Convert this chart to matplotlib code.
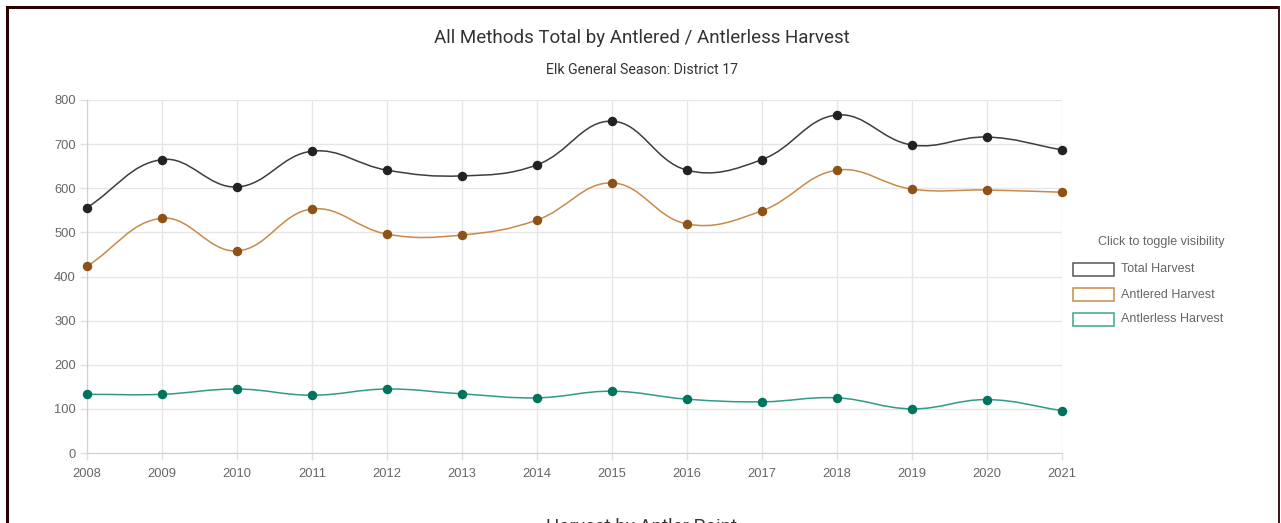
"""
Elk harvest, all methods, antlered / antlerless
"""
import numpy
from matplotlib import pyplot as plt
import matplotlib.patches as patches
from matplotlib.path import Path

# Data:
years = [2008, 2009, 2010, 2011, 2012, 2013, 2014, 2015, 2016, 2017, 2018, 2019, 2020, 2021]
total_harvest = [556, 665, 603, 684, 641, 628, 653, 752, 641, 665, 766, 698, 716, 687]
antlered_harvest = [423, 532, 458, 553, 496, 494, 528, 612, 519, 549, 641, 598, 596, 591]
antlerless_harvest = [133, 133, 145, 131, 145, 134, 125, 140, 122, 116, 125, 100, 121, 96]

series_names = ['Total Harvest', 'Antlered Harvest', 'Antlerless Harvest']
line_colours = ['#3d3d3d', '#c98a48', '#2e9c85']
point_colours = ['#222222', '#8e5216', '#00735c']
box_colours = ['#555555', '#c98a48', '#3aa58c']

W, H = 1281, 523
fig = plt.figure(figsize=(W/100, H/100), dpi=100)
fig.patch.set_facecolor('white')

left, right, top, bottom = 87, 1062, 100, 453
ax = fig.add_axes([left/W, 1 - bottom/H, (right-left)/W, (bottom-top)/H])
ax.set_xlim(2008, 2021)
ax.set_ylim(0, 800)
ax.set_xticks(years)
ax.set_yticks(range(0, 801, 100))
ax.grid(True, color='#e6e6e6', linewidth=1)
ax.set_axisbelow(True)
for s in ['top', 'right']:
    ax.spines[s].set_visible(False)
for s in ['left', 'bottom']:
    ax.spines[s].set_color('#d0d0d0')
ax.tick_params(colors='#e0e0e0', length=5, width=1, labelcolor='#666666',
               labelsize=9.3, pad=3)
ax.tick_params(axis='x', pad=6)
for lab in ax.get_xticklabels() + ax.get_yticklabels():
    lab.set_family('Liberation Sans')

# pixel scale for the Chart.js style spline
sx = (right - left) / 13.0
sy = (bottom - top) / 800.0


def spline_path(xs, ys, t=0.4):
    px = numpy.array(xs, float) * sx
    py = numpy.array(ys, float) * sy
    n = len(px)
    cps = []
    for i in range(n):
        p0 = (px[max(i-1, 0)], py[max(i-1, 0)])
        p1 = (px[i], py[i])
        p2 = (px[min(i+1, n-1)], py[min(i+1, n-1)])
        d01 = numpy.hypot(p1[0]-p0[0], p1[1]-p0[1])
        d12 = numpy.hypot(p2[0]-p1[0], p2[1]-p1[1])
        tot = d01 + d12
        s01 = d01/tot if tot else 0
        s12 = d12/tot if tot else 0
        fa, fb = t*s01, t*s12
        prev = (p1[0] - fa*(p2[0]-p0[0]), p1[1] - fa*(p2[1]-p0[1]))
        nxt = (p1[0] + fb*(p2[0]-p0[0]), p1[1] + fb*(p2[1]-p0[1]))
        cps.append((prev, nxt))
    verts = [(px[0], py[0])]
    codes = [Path.MOVETO]
    for i in range(1, n):
        verts += [cps[i-1][1], cps[i][0], (px[i], py[i])]
        codes += [Path.CURVE4] * 3
    verts = [(v[0]/sx, v[1]/sy) for v in verts]
    return Path(verts, codes)


all_series = [total_harvest, antlered_harvest, antlerless_harvest]
for vals, lc, pc in zip(all_series, line_colours, point_colours):
    path = spline_path(years, vals)
    ax.add_patch(patches.PathPatch(path, facecolor='none', edgecolor=lc,
                                   linewidth=1.1, zorder=3))
    ax.plot(years, vals, linestyle='none', marker='o', markersize=5.8,
            markerfacecolor=pc, markeredgecolor=pc, zorder=4, clip_on=False)

# Titles:
fig.text(642/W, 1 - 38/H, 'All Methods Total by Antlered / Antlerless Harvest',
         ha='center', va='center', fontsize=13.5, color='#333333', family='Roboto')
fig.text(642/W, 1 - 69.5/H, 'Elk General Season: District 17',
         ha='center', va='center', fontsize=10.2, color='#333333', family='Roboto')
fig.text(642/W, 1 - 527/H, 'Harvest by Antler Point',
         ha='center', va='center', fontsize=13.5, color='#333333', family='Roboto')

# Legend:
fig.text(1161/W, 1 - 242.5/H, 'Click to toggle visibility', ha='center', va='center',
         fontsize=9, color='#666666', family='Liberation Sans')
for i, (name, bc) in enumerate(zip(series_names, box_colours)):
    yc = 269.5 + 25*i
    fig.patches.append(patches.Rectangle((1073/W, 1 - (yc+6.5)/H), 41/W, 13/H,
                                         transform=fig.transFigure, facecolor='white',
                                         edgecolor=bc, linewidth=1.1))
    fig.text(1121/W, 1 - yc/H, name, ha='left', va='center', fontsize=9,
             color='#666666', family='Liberation Sans')

# Frame:
fig.patches.append(patches.Rectangle((6/W, -0.1), 3/W, 1.1 - 6/H, transform=fig.transFigure,
                                     facecolor='#2b0202', edgecolor='none'))
fig.patches.append(patches.Rectangle((6/W, 1 - 9/H), (1280-6)/W, 3/H, transform=fig.transFigure,
                                     facecolor='#2b0202', edgecolor='none'))
fig.patches.append(patches.Rectangle((1278/W, -0.1), 1.5/W, 1.1 - 6/H, transform=fig.transFigure,
                                     facecolor='#3a1a1a', edgecolor='none'))

plt.savefig('out.png', dpi=100)
